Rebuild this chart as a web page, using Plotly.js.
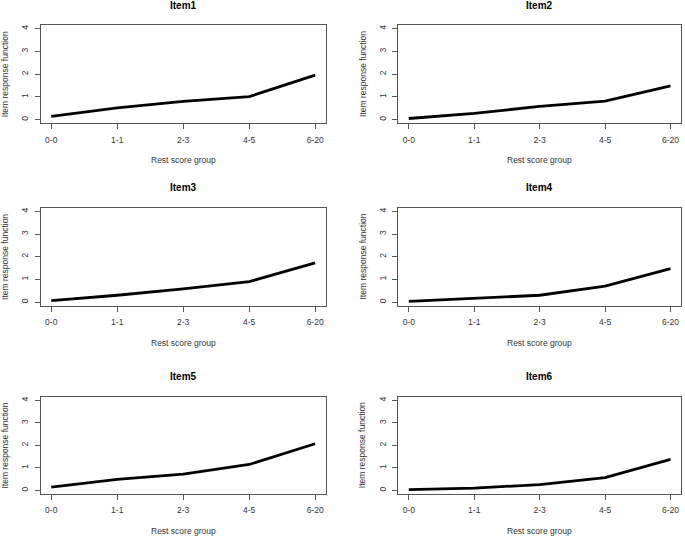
<!DOCTYPE html>
<html>
<head>
<meta charset="utf-8">
<script src="https://cdn.plot.ly/plotly-3.0.1.min.js"></script>
<style>html,body{margin:0;padding:0;background:#fff;}#chart{width:685px;height:537px;}</style>
</head>
<body>
<div id="chart"></div>
<script>
const categories = ["0-0", "1-1", "2-3", "4-5", "6-20"];
const item1 = [0.14, 0.52, 0.80, 1.01, 1.96];
const item2 = [0.05, 0.28, 0.58, 0.81, 1.48];
const item3 = [0.06, 0.30, 0.58, 0.90, 1.73];
const item4 = [0.03, 0.16, 0.30, 0.70, 1.47];
const item5 = [0.15, 0.49, 0.72, 1.15, 2.07];
const item6 = [0.03, 0.10, 0.26, 0.57, 1.38];
const panelTitles = ["Item1", "Item2", "Item3", "Item4", "Item5", "Item6"];
const xAxisTitle = "Rest score group";
const yAxisTitle = "Item response function";
const yTickValues = [0, 1, 2, 3, 4];

const series = [item1, item2, item3, item4, item5, item6];
const W = 685, H = 537;
const colsPx = [[40.7, 325.7], [398.3, 681]];
const rowsPx = [[25, 123.3], [207.7, 305.7], [396.7, 494]];
const FONT = "Liberation Sans, Arial, Helvetica, sans-serif";

const data = [];
const layout = {
  width: W, height: H,
  margin: {l: 0, r: 0, t: 0, b: 0},
  paper_bgcolor: "#fff", plot_bgcolor: "#fff",
  showlegend: false,
  font: {family: FONT, color: "#333"},
  annotations: []
};

series.forEach((vals, i) => {
  const n = i + 1;
  const col = i % 2, row = Math.floor(i / 2);
  const xs = n === 1 ? "" : String(n);
  data.push({
    type: "scatter", mode: "lines",
    x: categories, y: vals,
    xaxis: "x" + xs, yaxis: "y" + xs,
    line: {color: "#000", width: 2.8},
    hoverinfo: "skip"
  });
  const xd = [colsPx[col][0] / W, colsPx[col][1] / W];
  const yd = [(H - rowsPx[row][1]) / H, (H - rowsPx[row][0]) / H];
  const common = {
    showline: true, mirror: true, linecolor: "#555", linewidth: 1,
    ticks: "outside", ticklen: 5, tickcolor: "#555", tickwidth: 1,
    showgrid: false, zeroline: false, fixedrange: true,
    tickfont: {family: FONT, size: 8.5, color: "#333"}
  };
  layout["xaxis" + xs] = Object.assign({}, common, {
    domain: xd, anchor: "y" + xs, type: "category",
    range: [-0.16, 4.16], ticklabelstandoff: 3
  });
  layout["yaxis" + xs] = Object.assign({}, common, {
    domain: yd, anchor: "x" + xs, range: [-0.16, 4.16],
    tickmode: "array", tickvals: yTickValues, ticktext: yTickValues.map(String),
    tickangle: -90, ticklabelstandoff: 3
  });
  const xmid = (xd[0] + xd[1]) / 2, ymid = (yd[0] + yd[1]) / 2;
  layout.annotations.push({
    text: "<b>" + panelTitles[i] + "</b>", xref: "paper", yref: "paper",
    x: xmid, y: (H - (rowsPx[row][0] - 20)) / H, xanchor: "center", yanchor: "middle",
    showarrow: false, font: {family: FONT, size: 10, color: "#000"}
  });
  layout.annotations.push({
    text: xAxisTitle, xref: "paper", yref: "paper",
    x: xmid, y: (H - (rowsPx[row][1] + 37)) / H, xanchor: "center", yanchor: "middle",
    showarrow: false, font: {family: FONT, size: 8.5, color: "#333"}
  });
  layout.annotations.push({
    text: yAxisTitle, xref: "paper", yref: "paper",
    x: (colsPx[col][0] - 35.5) / W, y: ymid, xanchor: "center", yanchor: "middle",
    textangle: -90,
    showarrow: false, font: {family: FONT, size: 8.5, color: "#333"}
  });
});

Plotly.newPlot("chart", data, layout, {staticPlot: true, displayModeBar: false});
</script>
</body>
</html>
